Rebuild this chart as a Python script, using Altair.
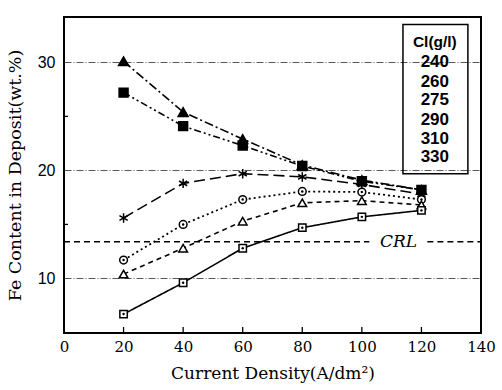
import altair as alt
import pandas as pd

# ---- data ----
current = [20, 40, 60, 80, 100, 120]
series_names = ["330", "310", "290", "275", "260", "240"]
fe_330 = [30.1, 25.4, 22.9, 20.5, 19.1, 18.2]   # filled triangle
fe_310 = [27.2, 24.1, 22.3, 20.4, 19.0, 18.2]   # filled square
fe_290 = [15.6, 18.8, 19.7, 19.4, 18.7, 17.8]   # star
fe_275 = [11.7, 15.0, 17.3, 18.05, 18.0, 17.3]  # circle
fe_260 = [10.4, 12.8, 15.3, 17.0, 17.2, 16.8]   # open triangle
fe_240 = [6.7, 9.6, 12.8, 14.7, 15.7, 16.3]     # open square
crl_value = 13.4
legend_labels = ["240", "260", "275", "290", "310", "330"]
legend_title = "Cl(g/l)"
x_ticks = [0, 20, 40, 60, 80, 100, 120, 140]
y_labels = [10, 20, 30]
y_minor = [15, 25]

values = [fe_330, fe_310, fe_290, fe_275, fe_260, fe_240]
rows = []
for name, vals in zip(series_names, values):
    for x, v in zip(current, vals):
        rows.append({"series": name, "cd": x, "fe": v})
df = pd.DataFrame(rows)

W, H = 417, 316
xs = alt.Scale(domain=[0, 140], nice=False, zero=False)
ys = alt.Scale(domain=[4.95, 34.2], nice=False, zero=False)

star_path = "M0,-1L0,1M-0.87,-0.5L0.87,0.5M-0.87,0.5L0.87,-0.5"
dash_map = {"330": [9, 3, 2, 3], "310": [7, 3, 2, 3, 2, 3], "290": [11, 5],
            "275": [2, 3], "260": [5, 4], "240": [1, 0]}
shape_map = {"330": "triangle-up", "310": "square", "290": star_path,
             "275": "circle", "260": "triangle-up", "240": "square"}
fill_map = {"330": "black", "310": "black", "290": "black",
            "275": "white", "260": "white", "240": "white"}
size_map = {"330": 100, "310": 80, "290": 90, "275": 60, "260": 75, "240": 55}

X = alt.X("cd:Q", scale=xs, axis=alt.Axis(values=x_ticks, title="Current Density(A/dm²)",
          ticks=False, domain=False, grid=False, labelPadding=6,
          labelFont="DejaVu Serif", labelFontSize=15, labelColor="black",
          titleFont="DejaVu Serif", titleFontSize=17, titleFontWeight="normal",
          titleColor="black", titlePadding=11, labelFlush=False))
Y = alt.Y("fe:Q", scale=ys, axis=alt.Axis(values=y_labels, title="Fe Content in Deposit(wt.%)",
          ticks=False, domain=False, grid=True, gridColor="#444", gridWidth=0.9,
          gridDash=[7, 2, 1, 2], labelPadding=9, labelFont="Liberation Sans",
          labelFontSize=16, labelColor="black", titleFont="DejaVu Serif",
          titleFontSize=17.5, titleFontWeight="normal", titleColor="black",
          titlePadding=13))

layers = []
for name in series_names:
    d = df[df.series == name]
    base = alt.Chart(d)
    line = base.mark_line(color="black", strokeWidth=1.6 if name != "275" else 1.8,
                          strokeDash=dash_map[name]).encode(x=X, y=Y)
    pts = base.mark_point(shape=shape_map[name], filled=False, fill=fill_map[name],
                          fillOpacity=1, stroke="black", strokeWidth=1.5,
                          size=size_map[name], opacity=1).encode(x=X, y=Y)
    layers += [line, pts]
    if name in ("275", "240"):
        dots = base.mark_point(shape="circle", filled=True, color="black",
                               size=6, opacity=1).encode(x=X, y=Y)
        layers.append(dots)

# CRL line (broken around label)
crl_df = pd.DataFrame({"x1": [0, 122], "x2": [102.5, 140], "y": [crl_value, crl_value]})
crl = alt.Chart(crl_df).mark_rule(color="black", strokeWidth=1.4, strokeDash=[6, 4]).encode(
    x=alt.X("x1:Q", scale=xs), x2="x2:Q", y=alt.Y("y:Q", scale=ys))
crl_lbl = alt.Chart(pd.DataFrame({"x": [112.3], "y": [crl_value], "t": ["CRL"]})).mark_text(
    font="DejaVu Serif", fontStyle="italic", fontSize=17, color="black",
    align="center", baseline="middle").encode(
    x=alt.X("x:Q", scale=xs), y=alt.Y("y:Q", scale=ys), text="t:N")

# x ticks inward
xt = alt.Chart(pd.DataFrame({"x": current})).mark_rule(color="black", strokeWidth=1.3).encode(
    x=alt.X("x:Q", scale=xs), y=alt.value(H), y2=alt.value(H - 6))
# y minor ticks
yt = alt.Chart(pd.DataFrame({"y": y_minor})).mark_rule(color="black", strokeWidth=1.3).encode(
    y=alt.Y("y:Q", scale=ys), x=alt.value(0), x2=alt.value(4))

# legend box
box = alt.Chart(pd.DataFrame({"x1": [113.8], "x2": [135.6], "y1": [19.7], "y2": [33.5]})).mark_rect(
    fill="white", fillOpacity=0, stroke="black", strokeWidth=1.5).encode(
    x=alt.X("x1:Q", scale=xs), x2="x2:Q", y=alt.Y("y1:Q", scale=ys), y2="y2:Q")
lt_df = pd.DataFrame({"x": [124.5], "y": [31.9], "t": [legend_title]})
ltitle = alt.Chart(lt_df).mark_text(font="Liberation Sans", fontWeight="bold", fontSize=15.5,
                                    color="black").encode(
    x=alt.X("x:Q", scale=xs), y=alt.Y("y:Q", scale=ys), text="t:N")
leg_y = [30.05, 28.2, 26.55, 24.7, 22.9, 21.25]
leg_df = pd.DataFrame({"x": [124.5] * 6, "y": leg_y, "t": legend_labels})
ltext = alt.Chart(leg_df).mark_text(font="Liberation Sans", fontWeight="bold", fontSize=17,
                                    color="black").encode(
    x=alt.X("x:Q", scale=xs), y=alt.Y("y:Q", scale=ys), text="t:N")

chart = alt.layer(*layers, crl, crl_lbl, xt, yt, box, ltitle, ltext).properties(
    width=W, height=H,
    autosize=alt.AutoSizeParams(type="none"),
    padding={"left": 64, "top": 17, "right": 21, "bottom": 57},
    background="white",
).configure_view(stroke="black", strokeWidth=2)

chart.save("out.html", embed_options={"renderer": "svg", "actions": False})
